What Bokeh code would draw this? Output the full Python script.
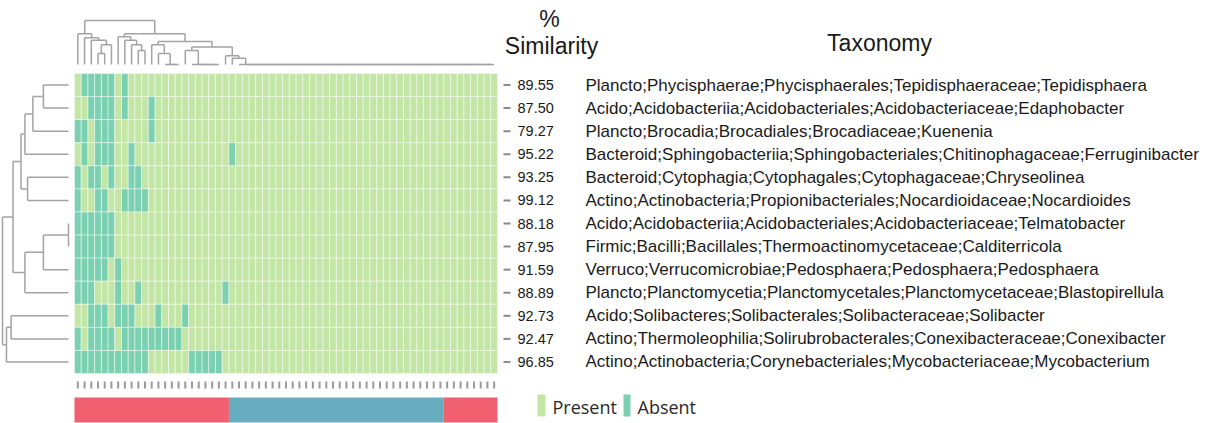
import numpy as np
from bokeh.plotting import figure
from bokeh.models import Range1d
from bokeh.core.properties import value
from bokeh.embed import file_html
from bokeh.resources import INLINE

# ---------------- data ----------------
similarity = ["89.55", "87.50", "79.27", "95.22", "93.25", "99.12", "88.18",
              "87.95", "91.59", "88.89", "92.73", "92.47", "96.85"]
taxonomy = [
    "Plancto;Phycisphaerae;Phycisphaerales;Tepidisphaeraceae;Tepidisphaera",
    "Acido;Acidobacteriia;Acidobacteriales;Acidobacteriaceae;Edaphobacter",
    "Plancto;Brocadia;Brocadiales;Brocadiaceae;Kuenenia",
    "Bacteroid;Sphingobacteriia;Sphingobacteriales;Chitinophagaceae;Ferruginibacter",
    "Bacteroid;Cytophagia;Cytophagales;Cytophagaceae;Chryseolinea",
    "Actino;Actinobacteria;Propionibacteriales;Nocardioidaceae;Nocardioides",
    "Acido;Acidobacteriia;Acidobacteriales;Acidobacteriaceae;Telmatobacter",
    "Firmic;Bacilli;Bacillales;Thermoactinomycetaceae;Calditerricola",
    "Verruco;Verrucomicrobiae;Pedosphaera;Pedosphaera;Pedosphaera",
    "Plancto;Planctomycetia;Planctomycetales;Planctomycetaceae;Blastopirellula",
    "Acido;Solibacteres;Solibacterales;Solibacteraceae;Solibacter",
    "Actino;Thermoleophilia;Solirubrobacterales;Conexibacteraceae;Conexibacter",
    "Actino;Actinobacteria;Corynebacteriales;Mycobacteriaceae;Mycobacterium",
]
n_cols = 63
# columns (samples) in which each taxon is absent
absent_cols = [
    [1, 2, 3, 4, 5, 7],
    [2, 3, 4, 5, 7, 11],
    [0, 1, 3, 4, 5, 11],
    [1, 3, 4, 5, 8, 23],
    [0, 2, 3, 5, 8, 9],
    [0, 3, 4, 7, 8, 9, 10],
    [0, 1, 2, 3, 4, 5],
    [0, 1, 2, 3, 4, 5],
    [0, 1, 2, 3, 4, 6],
    [0, 1, 2, 6, 9, 22],
    [2, 3, 4, 6, 7, 8, 12, 16],
    [0, 2, 3, 4, 5, 7, 8, 9, 10, 11, 12, 13, 14, 15],
    [0, 1, 2, 3, 4, 5, 6, 7, 8, 9, 10, 17, 18, 19, 20, 21],
]
# sample group for the colour bar
col_group = ["A"] * 23 + ["B"] * 32 + ["A"] * 8
group_colors = {"A": "#f0606f", "B": "#68adbf"}
legend_labels = ["Present", "Absent"]
state_colors = {"Present": "#c3e6a6", "Absent": "#7bd0b1"}

# row dendrogram: (name, left, right, height 0..1)
row_tree = [
    ("r13", 0, 1, 0.38), ("r14", "r13", 2, 0.54), ("r15", "r14", 3, 0.66),
    ("r16", 4, 5, 0.62), ("r17", "r15", "r16", 0.72),
    ("r18", 6, 7, 0.0), ("r19", "r18", 8, 0.38), ("r20", "r19", 9, 0.66),
    ("r21", "r17", "r20", 0.84),
    ("r22", 10, 11, 0.87), ("r23", "r22", 12, 0.94),
    ("root", "r21", "r23", 1.0),
]
# column dendrogram
col_tree = [
    ("a1", 3, 4, 0.25), ("a2", "a1", 5, 0.45), ("a3", 2, "a2", 0.55),
    ("a4", 1, "a3", 0.61), ("L", 0, "a4", 0.70),
    ("b1", 9, 10, 0.32), ("b2", 8, "b1", 0.45), ("b3", 7, "b2", 0.55),
    ("M", 6, "b3", 0.63),
    ("c1", 14, 15, 0.0), ("c2", 13, "c1", 0.0), ("c3", 12, "c2", 0.25),
    ("R", 11, "c3", 0.45),
    ("d1", 20, 21, 0.0), ("d2", 19, "d1", 0.0), ("d3", 18, "d2", 0.0),
    ("d4", 17, "d3", 0.0), ("T", 16, "d4", 0.32),
]
# identical (all-present) samples 24..62 tie at height 0
prev = 62
for c in range(61, 23, -1):
    col_tree.append(("z%d" % c, c, prev, 0.0))
    prev = "z%d" % c
col_tree += [
    ("e1", 23, prev, 0.14), ("W", 22, "e1", 0.20), ("X", "T", "W", 0.40),
    ("R1", "R", "X", 0.52), ("Right", "M", "R1", 0.70),
    ("croot", "L", "Right", 1.0),
]

# ---------------- layout constants (page px) ----------------
W, H = 1231, 423
OX, OY = 0, 0                 # canvas origin on page
HM_L, HM_T = 74, 73           # heatmap top-left on page
CW = 423 / n_cols             # px per column
RH = 300 / len(similarity)    # px per row

def ux(px):
    return (px - HM_L) / CW

def uy(py):
    return (py - HM_T) / RH

p = figure(width=W, height=H,
           x_range=Range1d(ux(OX), ux(OX + W)),
           y_range=Range1d(uy(OY + H), uy(OY)),
           output_backend="svg", toolbar_location=None,
           x_axis_location=None, y_axis_location=None,
           min_border=0, outline_line_color=None)
p.grid.visible = False
p.background_fill_color = "white"

# ---------------- heatmap ----------------
xs, ys, cols = [], [], []
for r, absent in enumerate(absent_cols):
    for c in range(n_cols):
        xs.append(c + 0.5)
        ys.append(r + 0.5)
        cols.append(state_colors["Absent"] if c in absent else state_colors["Present"])
p.rect(x=xs, y=ys, width=1, height=1, fill_color=cols,
       line_color="white", line_alpha=0.45, line_width=1)

nrows = len(similarity)
# bottom column ticks
p.segment(x0=[c + 0.5 for c in range(n_cols)], y0=uy(381),
          x1=[c + 0.5 for c in range(n_cols)], y1=uy(388),
          line_color="#9a9a9a", line_width=2)
# right row ticks
p.segment(x0=ux(503), y0=[r + 0.5 for r in range(nrows)],
          x1=ux(510), y1=[r + 0.5 for r in range(nrows)],
          line_color="#8a8a8a", line_width=2)

# ---------------- colour bar ----------------
runs = []
start = 0
for c in range(1, n_cols + 1):
    if c == n_cols or col_group[c] != col_group[start]:
        runs.append((start, c, col_group[start]))
        start = c
p.quad(left=[r[0] for r in runs], right=[r[1] for r in runs],
       top=uy(397), bottom=uy(422),
       fill_color=[group_colors[r[2]] for r in runs], line_color=None)

# ---------------- dendrograms ----------------
def dendro(tree, nleaves):
    pos = {i: i + 0.5 for i in range(nleaves)}
    hgt = {i: 0.0 for i in range(nleaves)}
    segs = []
    for name, a, b, h in tree:
        xa, xb = pos[a], pos[b]
        segs.append((xa, hgt[a], xa, h))
        segs.append((xb, hgt[b], xb, h))
        segs.append((xa, h, xb, h))
        pos[name] = (xa + xb) / 2
        hgt[name] = h
    return segs

DCOL = "#a3a3a3"
# top (columns)
leaf_y, root_y = uy(64), uy(20)
segs = dendro(col_tree, n_cols)
p.segment(x0=[s[0] for s in segs], y0=[leaf_y + (root_y - leaf_y) * s[1] for s in segs],
          x1=[s[2] for s in segs], y1=[leaf_y + (root_y - leaf_y) * s[3] for s in segs],
          line_color=DCOL, line_width=1.5)
# left (rows)
leaf_x, root_x = ux(68), ux(2)
segs = dendro(row_tree, nrows)
p.segment(x0=[leaf_x + (root_x - leaf_x) * s[1] for s in segs], y0=[s[0] for s in segs],
          x1=[leaf_x + (root_x - leaf_x) * s[3] for s in segs], y1=[s[2] for s in segs],
          line_color=DCOL, line_width=1.5)

# ---------------- texts ----------------
rows_y = [r + 0.5 for r in range(nrows)]
p.text(x=ux(517), y=rows_y, text=similarity, text_font=value("Liberation Sans"),
       text_font_size="14.5px", text_baseline="middle", text_align="left",
       text_color="#1a1a1a")
p.text(x=ux(585), y=rows_y, text=taxonomy, text_font=value("Liberation Sans"),
       text_font_size="17px", text_baseline="middle", text_align="left",
       text_color="#1a1a1a")
p.text(x=[ux(549), ux(551), ux(879)], y=[uy(18), uy(45), uy(42)],
       text=["%", "Similarity", "Taxonomy"], text_font=value("Liberation Sans"),
       text_font_size="23px", text_baseline="middle", text_align="center",
       text_color="#1a1a1a")

# ---------------- legend ----------------
p.quad(left=[ux(537), ux(623)], right=[ux(545), ux(630)],
       top=uy(394), bottom=uy(416),
       fill_color=[state_colors[k] for k in legend_labels], line_color=None)
p.text(x=[ux(552), ux(637)], y=uy(406), text=legend_labels,
       text_font=value("Open Sans"), text_font_size="18px",
       text_baseline="middle", text_align="left", text_color="#2a2a2a")

open("out.html", "w").write(file_html(p, INLINE))
